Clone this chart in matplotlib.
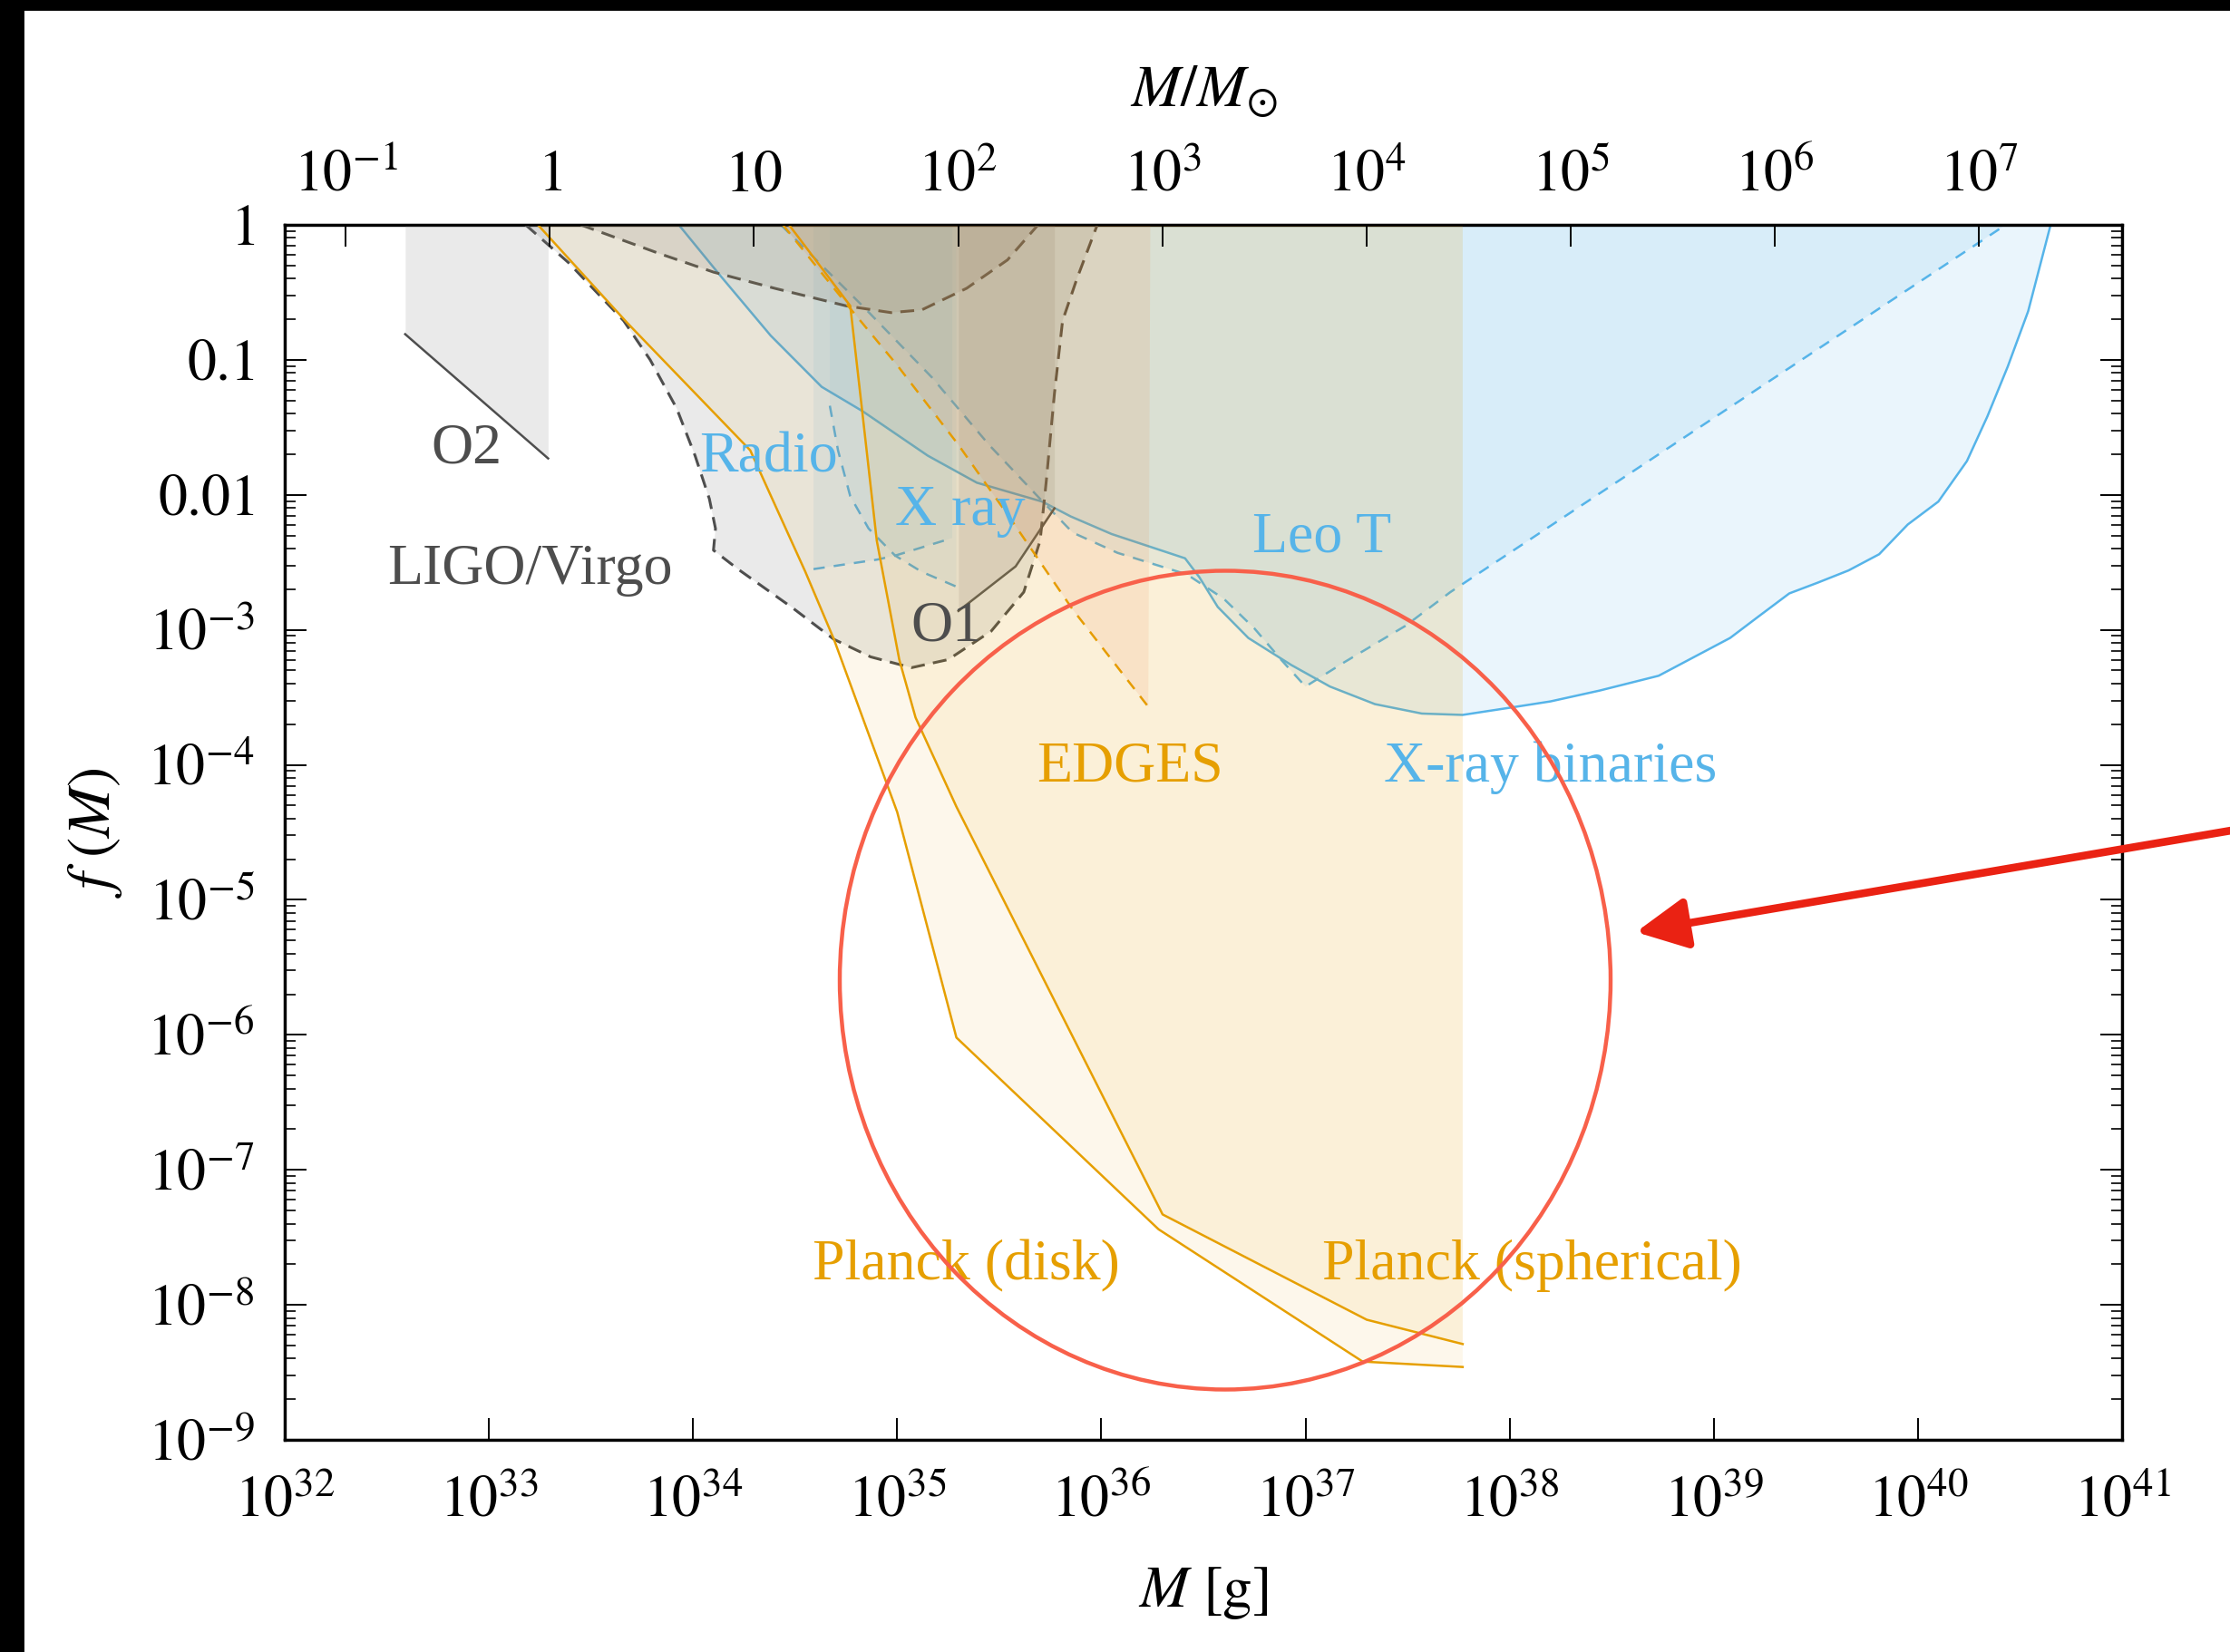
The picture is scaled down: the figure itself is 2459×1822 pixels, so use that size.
import numpy as np
import matplotlib
matplotlib.use("Agg")
import matplotlib.pyplot as plt
from matplotlib.patches import Ellipse, FancyArrowPatch, Rectangle
from matplotlib.ticker import LogLocator, NullFormatter, NullLocator

plt.rcParams["font.family"] = ["Liberation Serif", "DejaVu Serif"]
plt.rcParams["mathtext.fontset"] = "stix"

MSUN = 1.989e33

# all curves as log10(M / g), log10 f(M)
o2_x = [32.59, 33.29]
o2_y = [-0.81, -1.73]

o1_x = [35.30, 35.58, 35.77]
o1_y = [-2.86, -2.53, -2.10]

ligo_x = [33.18, 33.39, 33.66, 33.79, 33.92, 34.01, 34.08, 34.11, 34.10, 34.22, 34.49,
          34.69, 34.87, 35.07, 35.25, 35.46, 35.62, 35.70, 35.73, 35.77, 35.81, 35.88, 35.98]
ligo_y = [0.0, -0.28, -0.71, -1.00, -1.36, -1.71, -2.03, -2.25, -2.41, -2.55, -2.84,
          -3.07, -3.20, -3.28, -3.22, -3.01, -2.72, -2.34, -1.90, -1.25, -0.71, -0.40, 0.0]

arc_x = [33.45, 33.83, 34.10, 34.40, 34.75, 34.97, 35.12, 35.34, 35.54, 35.69]
arc_y = [0.0, -0.21, -0.35, -0.47, -0.60, -0.65, -0.63, -0.47, -0.26, 0.0]

disk_x = [33.24, 33.68, 34.28, 34.55, 34.69, 35.00, 35.29, 36.28, 37.28, 37.77]
disk_y = [0.0, -0.73, -1.67, -2.57, -3.07, -4.35, -6.02, -7.44, -8.42, -8.46]

sph_x = [34.47, 34.77, 34.83, 34.90, 35.01, 35.09, 35.29, 36.30, 37.30, 37.77]
sph_y = [0.0, -0.60, -1.40, -2.34, -3.22, -3.65, -4.31, -7.33, -8.11, -8.29]

edges_x = [34.44, 34.77, 35.00, 35.30, 35.57, 35.86, 36.23]
edges_y = [0.0, -0.62, -1.04, -1.63, -2.21, -2.85, -3.57]

# radio -> Leo T -> X-ray binaries (solid)
xrb_x = [33.93, 34.13, 34.38, 34.63, 34.83, 35.15, 35.39, 35.71, 35.85, 36.05, 36.41,
         36.48, 36.57, 36.72, 36.93, 37.12, 37.34, 37.57, 37.77, 38.03, 38.20, 38.44,
         38.73, 38.88, 39.08, 39.22, 39.37, 39.51, 39.66, 39.81, 39.95, 40.10, 40.24,
         40.34, 40.44, 40.54, 40.65]
xrb_y = [0.0, -0.37, -0.82, -1.20, -1.38, -1.71, -1.91, -2.05, -2.16, -2.29, -2.47,
         -2.61, -2.83, -3.06, -3.26, -3.42, -3.55, -3.62, -3.63, -3.57, -3.53, -3.45,
         -3.34, -3.22, -3.06, -2.90, -2.73, -2.65, -2.56, -2.44, -2.22, -2.05, -1.75,
         -1.42, -1.05, -0.64, 0.0]

# X ray / Leo T / X-ray binaries (dashed)
leo_x = [34.43, 34.53, 34.83, 35.17, 35.45, 35.70, 35.86, 36.08, 36.42, 36.60, 36.75,
         36.88, 37.00, 37.19, 37.49, 37.71, 40.43]
leo_y = [0.0, -0.15, -0.60, -1.13, -1.63, -2.03, -2.28, -2.43, -2.59, -2.77, -2.99,
         -3.22, -3.42, -3.24, -2.97, -2.72, 0.0]

xa_x = [34.59, 34.90, 34.99, 35.27]
xa_y = [-2.55, -2.48, -2.45, -2.32]
xb_x = [34.67, 34.71, 34.77, 34.86, 34.99, 35.12, 35.29]
xb_y = [-1.34, -1.67, -2.01, -2.25, -2.45, -2.57, -2.68]

labels = [
    ("O2", 32.89, -1.66, "#4d4d4d"),
    ("LIGO/Virgo", 33.20, -2.56, "#4d4d4d"),
    ("O1", 35.24, -2.98, "#4d4d4d"),
    ("Radio", 34.37, -1.73, "#56B4E9"),
    ("X ray", 35.31, -2.12, "#56B4E9"),
    ("Leo T", 37.08, -2.32, "#56B4E9"),
    ("X-ray binaries", 38.20, -4.02, "#56B4E9"),
    ("EDGES", 36.14, -4.02, "#E69F00"),
    ("Planck (disk)", 35.34, -7.71, "#E69F00"),
    ("Planck (spherical)", 38.11, -7.71, "#E69F00"),
]

x_exp = list(range(32, 42))
y_exp = list(range(-9, 1))
y_ticklabels = ["$10^{%d}$" % k for k in range(-9, -2)] + ["$0.01$", "$0.1$", "$1$"]
top_exp = list(range(-1, 8))
top_ticklabels = ["$10^{-1}$", "$1$", "$10$"] + ["$10^{%d}$" % k for k in range(2, 8)]

GREY = "#808080"
ORANGE = "#E69F00"
BLUE = "#56B4E9"
LGREY = "#4a4a4a"
FS = 23


def p(v):
    return 10.0 ** np.asarray(v, dtype=float)


fig = plt.figure(figsize=(2459 / 200, 1822 / 200), dpi=200)
ax = fig.add_axes([0.1277, 0.1284, 0.8239, 0.7355])
ax.set_xscale("log")
ax.set_yscale("log")
ax.set_xlim(1e32, 1e41)
ax.set_ylim(1e-9, 1)

# ── blue: radio / X ray / Leo T / X-ray binaries ───────────────────────────
ax.plot(p(xrb_x), p(xrb_y), color=BLUE, lw=0.9, zorder=1)
ax.plot(p(leo_x), p(leo_y), color=BLUE, lw=0.9, ls=(0, (5, 4)), zorder=1)
ax.plot(p(xa_x), p(xa_y), color=BLUE, lw=0.9, ls=(0, (5, 4)), zorder=1)
ax.plot(p(xb_x), p(xb_y), color=BLUE, lw=0.9, ls=(0, (5, 4)), zorder=1)
ax.fill(p(xrb_x), p(xrb_y), color=BLUE, alpha=0.12, lw=0, zorder=2)
ax.fill(p(leo_x), p(leo_y), color=BLUE, alpha=0.12, lw=0, zorder=2)
ax.fill(p([34.59] + xa_x + [35.27]), p([0] + xa_y + [0]), color=BLUE, alpha=0.1, lw=0, zorder=2)
ax.fill(p([34.67] + xb_x + [35.29]), p([0] + xb_y + [0]), color=BLUE, alpha=0.08, lw=0, zorder=2)

# ── grey: LIGO/Virgo ──────────────────────────────────────────────────────
ax.plot(p(o2_x), p(o2_y), color=LGREY, lw=0.9, zorder=3)
ax.plot(p(o1_x), p(o1_y), color=LGREY, lw=0.9, zorder=3)
ax.plot(p(ligo_x), p(ligo_y), color=LGREY, lw=1.1, ls=(0, (5, 3)), zorder=3)
ax.plot(p(arc_x), p(arc_y), color=LGREY, lw=1.1, ls=(0, (5, 3)), zorder=3)
ax.fill_between(p(o2_x), p(o2_y), 1, color=GREY, alpha=0.16, lw=0, zorder=4)
ax.fill_between(p(o1_x), p(o1_y), 1, color=GREY, alpha=0.16, lw=0, zorder=4)
ax.fill(p(ligo_x), p(ligo_y), color=GREY, alpha=0.16, lw=0, zorder=4)
ax.fill(p(arc_x), p(arc_y), color=GREY, alpha=0.16, lw=0, zorder=4)

# ── orange: Planck / EDGES ─────────────────────────────────────────────────
ax.plot(p(disk_x), p(disk_y), color=ORANGE, lw=0.9, zorder=5)
ax.plot(p(sph_x), p(sph_y), color=ORANGE, lw=0.9, zorder=5)
ax.plot(p(edges_x), p(edges_y), color=ORANGE, lw=0.9, ls=(0, (5, 4)), zorder=5)
ax.fill(p(disk_x + [37.77]), p(disk_y + [0]), color=ORANGE, alpha=0.08, lw=0, zorder=6)
ax.fill(p(sph_x + [37.77]), p(sph_y + [0]), color=ORANGE, alpha=0.08, lw=0, zorder=6)
ax.fill(p(edges_x + [36.24]), p(edges_y + [0]), color="#E8702A", alpha=0.1, lw=0, zorder=6)

for txt, lx, ly, col in labels:
    ax.text(p(lx), p(ly), txt, color=col, fontsize=FS, ha="center", va="center", zorder=8)

# ── axes, ticks ────────────────────────────────────────────────────────────
ax.set_xticks(p(x_exp))
ax.set_xticklabels(["$10^{%d}$" % k for k in x_exp])
ax.xaxis.set_minor_locator(NullLocator())
ax.set_yticks(p(y_exp))
ax.set_yticklabels(y_ticklabels)
ax.yaxis.set_minor_locator(LogLocator(base=10, subs=np.arange(2, 10), numticks=100))
ax.yaxis.set_minor_formatter(NullFormatter())
ax.tick_params(axis="both", which="major", direction="in", length=8.5, width=0.7,
               labelsize=FS, top=False, right=True)
ax.tick_params(axis="x", which="major", pad=14.5)
ax.tick_params(axis="y", which="major", pad=12)
ax.tick_params(axis="y", which="minor", direction="in", length=4.2, width=0.6,
               left=True, right=True)
for s in ax.spines.values():
    s.set_linewidth(1.2)

ax.set_xlabel("$M\\ [\\mathrm{g}]$", fontsize=FS + 0.5, labelpad=14)
ax.set_ylabel("$f\\ (M)$", fontsize=FS + 1, labelpad=9)

ax2 = ax.twiny()
ax2.set_xscale("log")
ax2.set_xlim(1e32 / MSUN, 1e41 / MSUN)
ax2.set_xticks(p(top_exp))
ax2.set_xticklabels(top_ticklabels)
ax2.xaxis.set_minor_locator(NullLocator())
ax2.tick_params(axis="x", which="major", direction="in", length=8.5, width=0.7,
                labelsize=FS, pad=8.5)
ax2.set_xlabel("$M/M_{\\odot}$", fontsize=FS + 0.5, labelpad=17.5)

# ── red annotation ─────────────────────────────────────────────────────────
W, H = 2459.0, 1822.0
fig.patches.append(Ellipse((1351 / W, 1 - 1081 / H), 850 / W, 903 / H,
                           transform=fig.transFigure, fill=False,
                           edgecolor="#f8604a", lw=1.6, zorder=20))
fig.patches.append(FancyArrowPatch((1.01, 1 - 912 / H), (1804 / W, 1 - 1028 / H),
                                   transform=fig.transFigure, color="#ea2213",
                                   arrowstyle="-|>,head_length=17,head_width=8.5",
                                   mutation_scale=1, lw=3.1, shrinkA=0, shrinkB=0,
                                   zorder=21))

# screenshot frame
fig.patches.append(Rectangle((0, 0), 25 / W, 1, transform=fig.transFigure,
                             color="black", zorder=30))
fig.patches.append(Rectangle((0, 1 - 10 / H), 1, 10 / H, transform=fig.transFigure,
                             color="black", zorder=30))

fig.savefig("out.png", dpi=200)
